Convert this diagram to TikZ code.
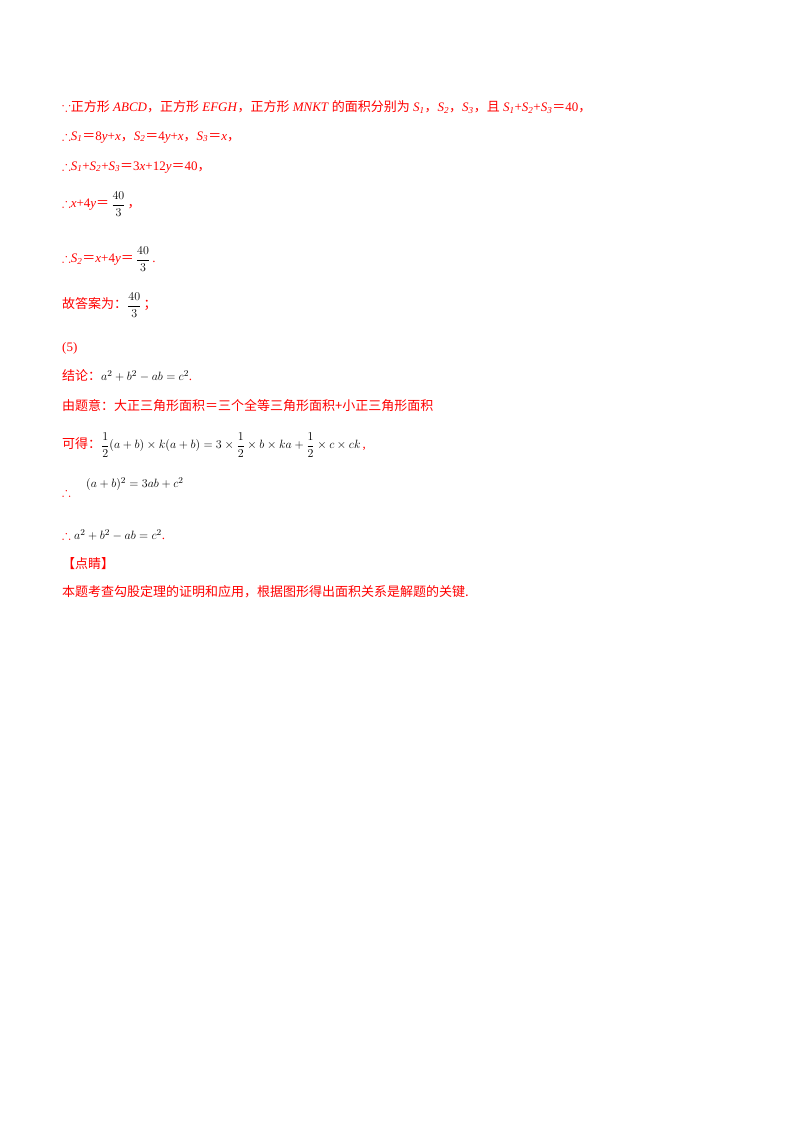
\documentclass[tikz,border=0pt]{standalone}
\usepackage{amsmath,amssymb}
\usepackage{fontspec}
\setmainfont{Liberation Serif}
\newfontfamily\cjk{Noto Sans CJK SC}
\newcommand{\eqz}{{\cjk ＝}}
\definecolor{rd}{RGB}{255,0,0}
\begin{document}
\begin{tikzpicture}[x=1pt,y=-1pt,
 ln/.style={anchor=west,inner sep=0pt,text=rd,font=\fontsize{13}{15}\selectfont}]
\useasboundingbox[fill=white] (0,0) rectangle (800,1132);
\node[ln] (l1) at (62,107) {$\because$\cjk 正方形\rmfamily\ \textit{ABCD}\cjk，正方形\rmfamily\ \textit{EFGH}\cjk，正方形\rmfamily\ \textit{MNKT}\cjk\ 的面积分别为\rmfamily\ \textit{S\textsubscript{1}}\cjk，\rmfamily\textit{S\textsubscript{2}}\cjk，\rmfamily\textit{S\textsubscript{3}}\cjk，且\rmfamily\ \textit{S\textsubscript{1}}+\textit{S\textsubscript{2}}+\textit{S\textsubscript{3}}\eqz 40\cjk，};
\node[ln] (l2) at (62,137) {$\therefore$\textit{S\textsubscript{1}}\eqz 8\textit{y}+\textit{x}\cjk，\rmfamily\textit{S\textsubscript{2}}\eqz 4\textit{y}+\textit{x}\cjk，\rmfamily\textit{S\textsubscript{3}}\eqz\textit{x}\cjk，};
\node[ln] (l3) at (62,167) {$\therefore$\textit{S\textsubscript{1}}+\textit{S\textsubscript{2}}+\textit{S\textsubscript{3}}\eqz 3\textit{x}+12\textit{y}\eqz 40\cjk，};
\node[ln] (l4) at (62,204) {$\therefore$\textit{x}+4\textit{y}\eqz\,\textcolor{black}{$\dfrac{40}{3}$}\,\cjk，};
\node[ln] (l5) at (62,259) {$\therefore$\textit{S\textsubscript{2}}\eqz\textit{x}+4\textit{y}\eqz\,\textcolor{black}{$\dfrac{40}{3}$}\,.};
\node[ln] (l6) at (62,305) {\cjk 故答案为：\rmfamily\textcolor{black}{$\dfrac{40}{3}$}\,\cjk；};
\node[ln] (l7) at (62,348) {(5)};
\node[ln] (l8) at (62,376) {\cjk 结论：\rmfamily\textcolor{black}{$a^2+b^2-ab=c^2$}.};
\node[ln] (l9) at (62,406) {\cjk 由题意：大正三角形面积＝三个全等三角形面积+小正三角形面积};
\node[ln] (l10) at (62,445) {\cjk 可得：\rmfamily\textcolor{black}{$\dfrac12(a+b)\times k(a+b)=3\times\dfrac12\times b\times ka+\dfrac12\times c\times ck$}\,,};
\node[ln] (l11) at (62,492) {$\therefore$};
\node[ln] (l11b) at (86,484) {\textcolor{black}{$(a+b)^2=3ab+c^2$}};
\node[ln] (l12) at (62,535) {$\therefore$\ \textcolor{black}{$a^2+b^2-ab=c^2$}.};
\node[ln] (l13) at (62,564) {\cjk 【点睛】};
\node[ln] (l14) at (62,592) {\cjk 本题考查勾股定理的证明和应用，根据图形得出面积关系是解题的关键.};
\end{tikzpicture}
\end{document}
